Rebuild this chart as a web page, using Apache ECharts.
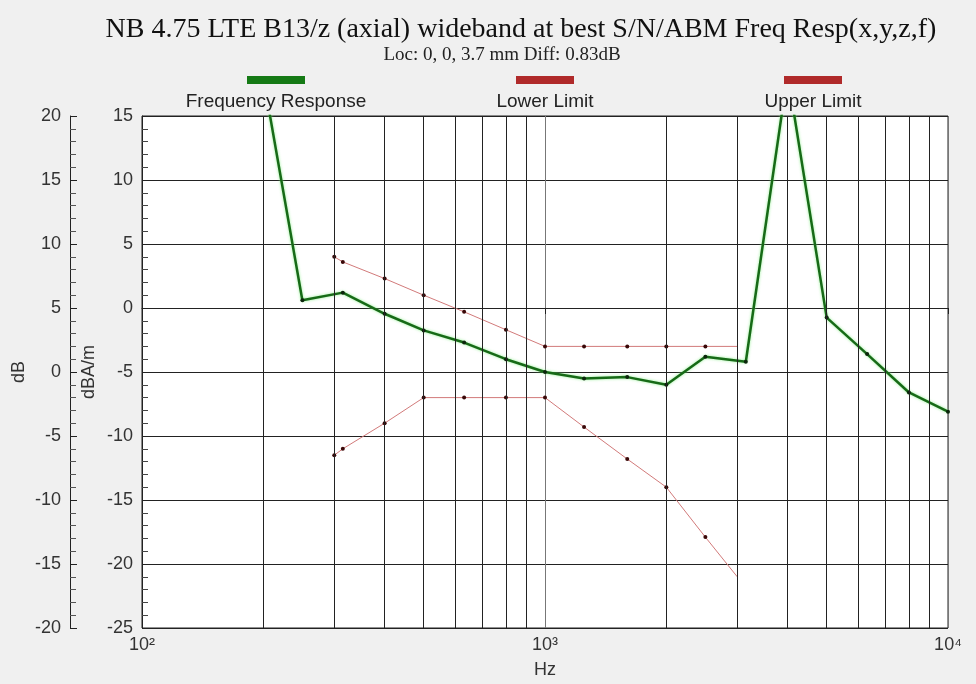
<!DOCTYPE html>
<html>
<head>
<meta charset="utf-8">
<script src="https://cdn.jsdelivr.net/npm/echarts@6.0.0/dist/echarts.min.js"></script>
<style>
  html, body { margin: 0; padding: 0; background: #f0f0f0; }
  #chart { width: 976px; height: 684px; }
</style>
</head>
<body>
<div id="chart"></div>
<script>
// frequency response (Hz, dBA/m)
const respFreq = [200, 250, 315, 400, 500, 630, 800, 1000, 1250, 1600, 2000, 2500, 3150, 4000, 5000, 6300, 8000, 10000]
const respVal = [18, 0.6, 1.2, -0.45, -1.75, -2.7, -4, -5, -5.5, -5.4, -6, -3.8, -4.2, 18.3, -0.75, -3.6, -6.6, -8.1]

// limits
const limitFreq = [300, 315, 400, 500, 630, 800, 1000, 1250, 1600, 2000, 2500, 3000]
const lowerVal = [-11.5, -11, -9, -7, -7, -7, -7, -9.3, -11.8, -14, -17.9, -21]
const upperVal = [4, 3.6, 2.3, 1, -0.3, -1.7, -3, -3, -3, -3, -3, -3]

// log grid lines between decades
const gridFreq = [200, 300, 400, 500, 600, 700, 800, 900, 2000, 3000, 4000, 5000, 6000, 7000, 8000, 9000]
const xTickLabels = { 100: '10\u00b2', 1000: '10\u00b3', 10000: '10\u2074' }

const legendNames = ['Frequency Response', 'Lower Limit', 'Upper Limit']
const legendColors = ['#157a15', '#b02a2a', '#b02a2a']
const legendX = [276, 545, 813] // centre of each legend entry

const sansFont = 'Liberation Sans, Arial, sans-serif'
const serifFont = 'Liberation Serif, Times New Roman, serif'
const labelSize = 18

function pairs (xs, ys, lastPlain) {
  return xs.map((x, i) => {
    if (lastPlain && i === xs.length - 1) {
      return { value: [x, ys[i]], symbol: 'none' }
    }
    return [x, ys[i]]
  })
}

let legendGraphics = []
legendNames.forEach((name, i) => {
  legendGraphics.push({
    type: 'rect',
    left: legendX[i] - 29,
    top: 76,
    shape: { width: 58, height: 8 },
    style: { fill: legendColors[i] }
  })
  legendGraphics.push({
    type: 'text',
    x: legendX[i],
    y: 92,
    style: {
      text: name,
      fill: '#222',
      font: '19px ' + sansFont,
      align: 'center',
      verticalAlign: 'top'
    }
  })
})

const chart = echarts.init(document.getElementById('chart'))
const option = {
  backgroundColor: '#f0f0f0',
  animation: false,
  title: [
    {
      text: 'NB 4.75 LTE B13/z (axial) wideband at best S/N/ABM Freq Resp(x,y,z,f)',
      left: 516,
      top: 11,
      textAlign: 'center',
      textStyle: { fontFamily: serifFont, fontSize: 28, fontWeight: 'normal', color: '#111' }
    },
    {
      text: 'Loc: 0, 0, 3.7 mm Diff: 0.83dB',
      left: 497,
      top: 41,
      textAlign: 'center',
      textStyle: { fontFamily: serifFont, fontSize: 19, fontWeight: 'normal', color: '#222' }
    }
  ],
  graphic: legendGraphics,
  grid: {
    left: 142,
    right: 28,
    top: 116,
    bottom: 56,
    outerBoundsMode: 'none',
    containLabel: false,
    show: true,
    backgroundColor: '#ffffff',
    borderColor: '#222',
    borderWidth: 1
  },
  xAxis: {
    type: 'log',
    logBase: 10,
    min: 100,
    max: 10000,
    name: 'Hz',
    nameLocation: 'middle',
    nameGap: 33,
    nameMoveOverlap: false,
    nameTextStyle: { fontFamily: sansFont, fontSize: labelSize, color: '#333' },
    axisLine: { lineStyle: { color: '#222' } },
    axisTick: { show: true, length: 6, lineStyle: { color: '#222' } },
    axisLabel: {
      fontFamily: sansFont,
      fontSize: labelSize,
      color: '#333',
      margin: 8,
      formatter: v => xTickLabels[Math.round(v)] || ''
    },
    splitLine: { show: true, lineStyle: { color: '#777', width: 1 } },
    minorTick: { show: false },
    minorSplitLine: { show: false }
  },
  yAxis: [
    {
      // dBA/m (inner)
      type: 'value',
      position: 'left',
      min: -25,
      max: 15,
      interval: 5,
      name: 'dBA/m',
      nameLocation: 'middle',
      nameGap: 44,
      nameMoveOverlap: false,
      nameTextStyle: { fontFamily: sansFont, fontSize: labelSize, color: '#333' },
      axisLine: { show: true, lineStyle: { color: '#222' } },
      axisTick: { show: true, inside: true, length: 6, lineStyle: { color: '#222' } },
      minorTick: { show: true, splitNumber: 5, length: 6, lineStyle: { color: '#444' } },
      axisLabel: { fontFamily: sansFont, fontSize: labelSize, color: '#333', margin: 9 },
      splitLine: { show: true, lineStyle: { color: '#222', width: 1 } }
    },
    {
      // dB (outer)
      type: 'value',
      position: 'left',
      offset: 72,
      min: -20,
      max: 20,
      interval: 5,
      name: 'dB',
      nameLocation: 'middle',
      nameGap: 42,
      nameMoveOverlap: false,
      nameTextStyle: { fontFamily: sansFont, fontSize: labelSize, color: '#333' },
      axisLine: { show: true, lineStyle: { color: '#222' } },
      axisTick: { show: true, inside: true, length: 7, lineStyle: { color: '#222' } },
      minorTick: { show: true, splitNumber: 5, length: 6, lineStyle: { color: '#555' } },
      axisLabel: { fontFamily: sansFont, fontSize: labelSize, color: '#333', margin: 9 },
      splitLine: { show: false }
    }
  ],
  series: [
    {
      // vertical log grid
      type: 'line',
      data: [],
      silent: true,
      z: 1,
      markLine: {
        silent: true,
        symbol: ['none', 'none'],
        label: { show: false },
        lineStyle: { color: '#222', width: 1, type: 'solid' },
        data: gridFreq.map(f => ({ xAxis: f }))
      }
    },
    {
      name: 'Upper Limit',
      type: 'line',
      z: 3,
      data: pairs(limitFreq, upperVal, true),
      symbol: 'circle',
      symbolSize: 4,
      lineStyle: { color: '#d27a7a', width: 1 },
      itemStyle: { color: '#3a0808' }
    },
    {
      name: 'Lower Limit',
      type: 'line',
      z: 3,
      data: pairs(limitFreq, lowerVal, true),
      symbol: 'circle',
      symbolSize: 4,
      lineStyle: { color: '#d27a7a', width: 1 },
      itemStyle: { color: '#3a0808' }
    },
    {
      name: 'Frequency Response',
      type: 'line',
      z: 4,
      clip: true,
      data: pairs(respFreq, respVal, false),
      symbol: 'circle',
      symbolSize: 4,
      lineStyle: {
        color: '#176a17',
        width: 2.5,
        shadowColor: 'rgba(120, 235, 120, 0.8)',
        shadowBlur: 3
      },
      itemStyle: { color: '#0c260c' }
    }
  ]
}
chart.setOption(option)
</script>
</body>
</html>
